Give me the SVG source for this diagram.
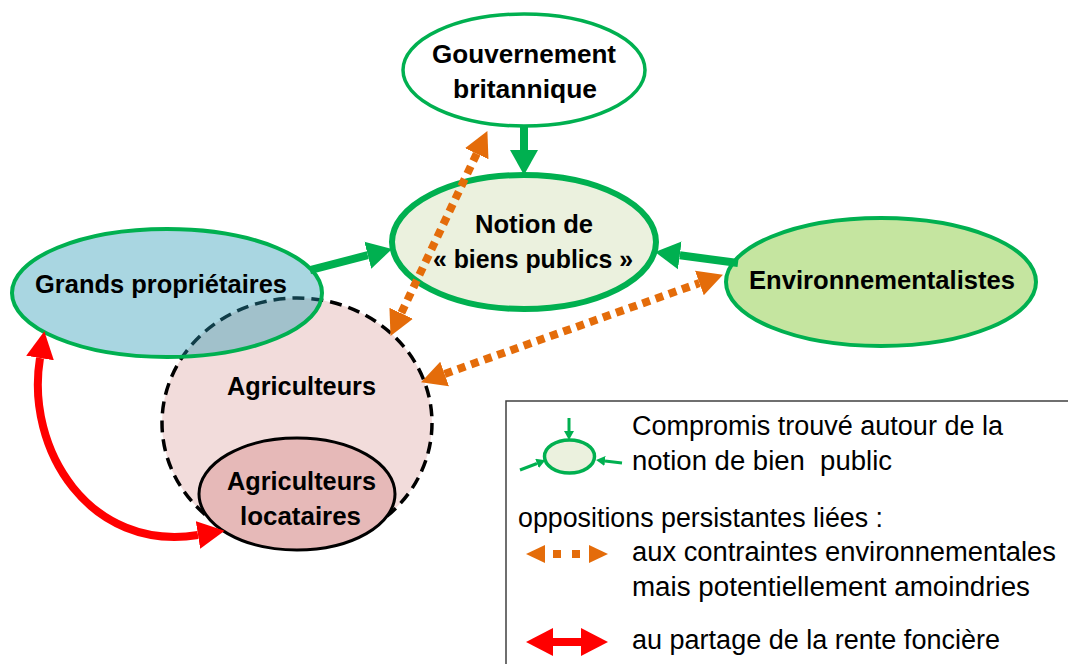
<svg xmlns="http://www.w3.org/2000/svg" width="1068" height="664" viewBox="0 0 1068 664">
<style>
.nt{font-family:"Liberation Sans",Arial,sans-serif;font-weight:bold;font-size:25px;fill:#000;text-anchor:start}
.lg{font-family:"Liberation Sans",Arial,sans-serif;font-size:27px;fill:#000}
.g{fill:none;stroke:#00B050;stroke-width:8}
.o{fill:none;stroke:#E46C0A;stroke-width:8;stroke-dasharray:8 6}
.r{fill:none;stroke:#FF0000;stroke-width:8}
</style>
<defs>
<marker id="gh" markerUnits="userSpaceOnUse" markerWidth="26" markerHeight="30" refX="0" refY="14" orient="auto" viewBox="0 0 26 28"><path d="M0,0 L25,14 L0,28 z" fill="#00B050"/></marker>
<marker id="oh" markerUnits="userSpaceOnUse" markerWidth="26" markerHeight="28" refX="0" refY="13" orient="auto-start-reverse" viewBox="0 0 26 26"><path d="M0,0 L25,13 L0,26 z" fill="#E46C0A"/></marker>
<marker id="oh2" markerUnits="userSpaceOnUse" markerWidth="20" markerHeight="20" refX="0" refY="9" orient="auto-start-reverse" viewBox="0 0 20 18"><path d="M0,0 L19,9 L0,18 z" fill="#E46C0A"/></marker>
<marker id="rh" markerUnits="userSpaceOnUse" markerWidth="28" markerHeight="30" refX="0" refY="14" orient="auto-start-reverse" viewBox="0 0 28 28"><path d="M0,0 L27,14 L0,28 z" fill="#FF0000"/></marker>
<marker id="sh" markerUnits="userSpaceOnUse" markerWidth="10" markerHeight="10" refX="0" refY="5" orient="auto" viewBox="0 0 10 10"><path d="M0,0 L9,5 L0,10 z" fill="#00B050"/></marker>
</defs>

<g id="agriculteurs">
<ellipse cx="297" cy="423" rx="135" ry="125" fill="#F2DCDB" stroke="#000" stroke-width="3.5" stroke-dasharray="12 7"/>
<text class="nt" x="227" y="395" textLength="149" lengthAdjust="spacingAndGlyphs">Agriculteurs</text>
</g>

<g id="grands-proprietaires">
<ellipse cx="167" cy="293" rx="155" ry="64" fill="#2898B4" fill-opacity="0.4" stroke="#00B050" stroke-width="4"/>
<text class="nt" x="35" y="293" textLength="252" lengthAdjust="spacingAndGlyphs">Grands propriétaires</text>
</g>

<g id="agriculteurs-locataires">
<ellipse cx="297" cy="494" rx="98" ry="56" fill="#E6B9B8" stroke="#000" stroke-width="3"/>
<text class="nt" x="227" y="490" textLength="149" lengthAdjust="spacingAndGlyphs">Agriculteurs</text>
<text class="nt" x="240" y="525" textLength="121" lengthAdjust="spacingAndGlyphs">locataires</text>
</g>

<g id="gouvernement">
<ellipse cx="524" cy="70" rx="121" ry="56" fill="#fff" stroke="#00B050" stroke-width="3.5"/>
<text class="nt" x="432" y="63" textLength="184" lengthAdjust="spacingAndGlyphs">Gouvernement</text>
<text class="nt" x="453" y="98" textLength="144" lengthAdjust="spacingAndGlyphs">britannique</text>
</g>

<g id="notion">
<ellipse cx="524" cy="242" rx="132" ry="67" fill="#EBF1DE" stroke="#00B050" stroke-width="6"/>
<text class="nt" x="475" y="233" textLength="118" lengthAdjust="spacingAndGlyphs">Notion de</text>
<text class="nt" x="433" y="268" textLength="200" lengthAdjust="spacingAndGlyphs">« biens publics »</text>
</g>

<g id="environnementalistes">
<ellipse cx="881" cy="282" rx="155" ry="64" fill="#C5E5A0" stroke="#00B050" stroke-width="4"/>
<text class="nt" x="749" y="289" textLength="266" lengthAdjust="spacingAndGlyphs">Environnementalistes</text>
</g>

<g id="connectors">
<path class="g" d="M524,127 L524,150" marker-end="url(#gh)"/>
<path class="g" d="M310,270 L367.8,255.2" marker-end="url(#gh)"/>
<path class="g" d="M738,263 L679.8,255.3" marker-end="url(#gh)"/>
<path class="o" d="M476.7,153.7 L401.2,313.3" marker-start="url(#oh)" marker-end="url(#oh)"/>
<path class="o" d="M444.6,373.9 L699.4,283.1" marker-start="url(#oh)" marker-end="url(#oh)"/>
<path class="r" d="M40,358 C25,450 90,552 198,535" marker-start="url(#rh)" marker-end="url(#rh)"/>
</g>

<g id="legend">
<rect x="506" y="401" width="600" height="300" fill="#fff" stroke="#404040" stroke-width="1.5"/>
<ellipse cx="569.5" cy="456.5" rx="25" ry="16.5" fill="#EBF1DE" stroke="#00B050" stroke-width="3.5"/>
<path d="M569,418 L569,431" stroke="#00B050" stroke-width="3" fill="none" marker-end="url(#sh)"/>
<path d="M520,470 L537,463.5" stroke="#00B050" stroke-width="3" fill="none" marker-end="url(#sh)"/>
<path d="M622,463 L605,461" stroke="#00B050" stroke-width="3" fill="none" marker-end="url(#sh)"/>
<path d="M545,554 L589,554" fill="none" stroke="#E46C0A" stroke-width="8" stroke-dasharray="8 11" stroke-dashoffset="11" marker-start="url(#oh2)" marker-end="url(#oh2)"/>
<path d="M553,642 L581,642" class="r" stroke-width="7" marker-start="url(#rh)" marker-end="url(#rh)"/>
<text class="lg" x="632" y="435" textLength="371" lengthAdjust="spacingAndGlyphs">Compromis trouvé autour de la</text>
<text class="lg" x="632" y="470" textLength="260" lengthAdjust="spacingAndGlyphs" xml:space="preserve">notion de bien  public</text>
<text class="lg" x="518" y="527" textLength="365" lengthAdjust="spacingAndGlyphs">oppositions persistantes liées :</text>
<text class="lg" x="632" y="561" textLength="424" lengthAdjust="spacingAndGlyphs">aux contraintes environnementales</text>
<text class="lg" x="632" y="596" textLength="398" lengthAdjust="spacingAndGlyphs">mais potentiellement amoindries</text>
<text class="lg" x="632" y="649" textLength="368" lengthAdjust="spacingAndGlyphs">au partage de la rente foncière</text>
</g>
</svg>
